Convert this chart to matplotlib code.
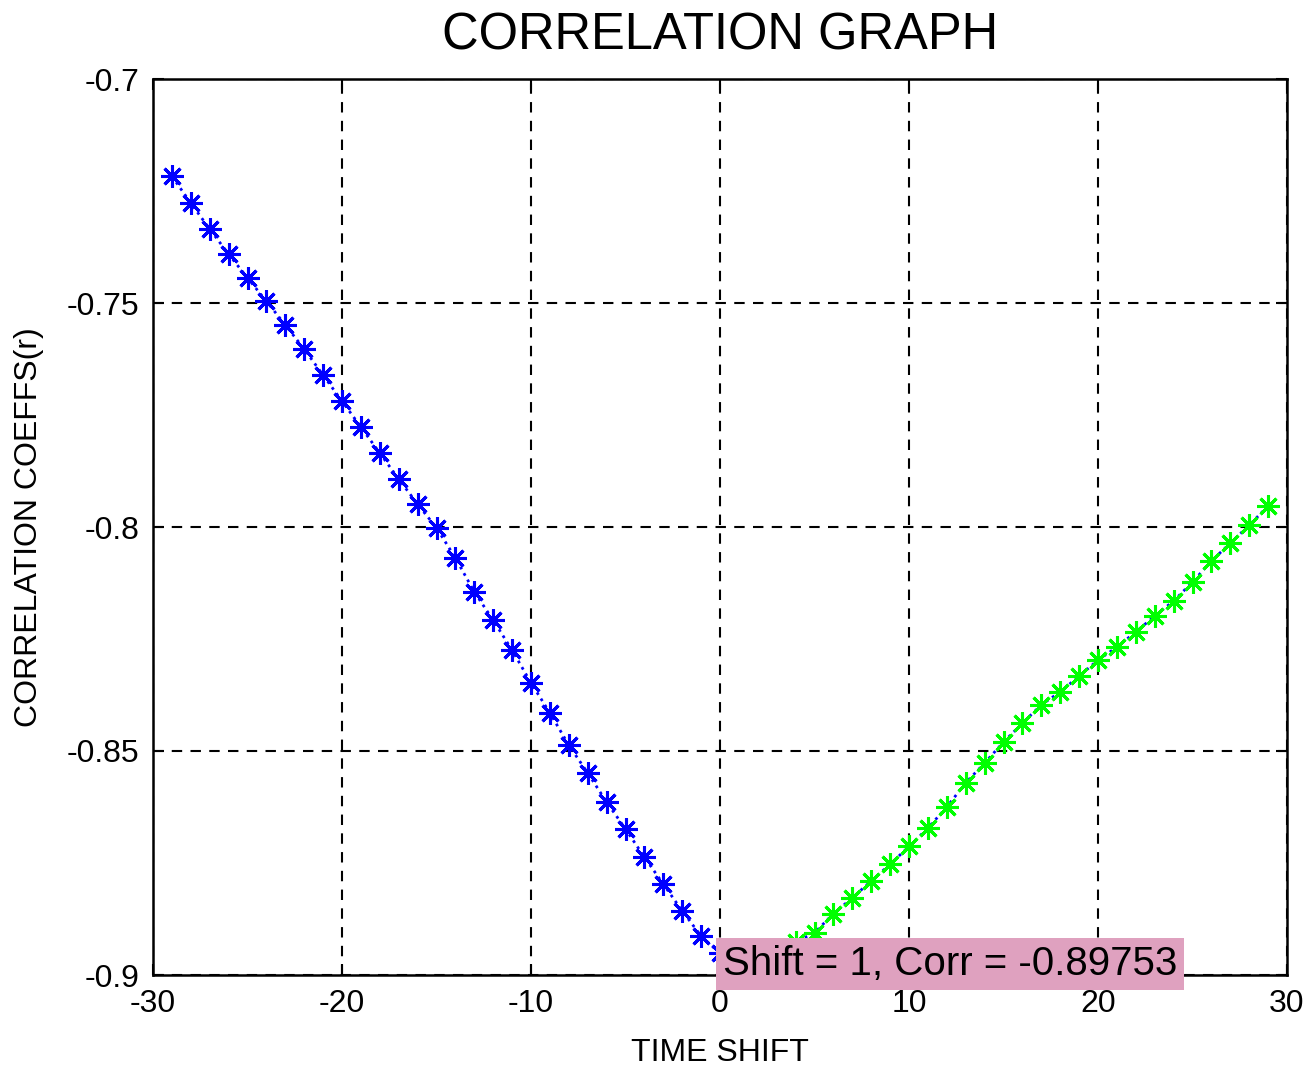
import matplotlib
matplotlib.use("Agg")
import matplotlib.pyplot as plt

# Data
shift_neg = list(range(-29, 1))
corr_neg = [-0.7217, -0.7277, -0.7335, -0.7391, -0.7444, -0.7496, -0.7549, -0.7603,
            -0.7661, -0.7719, -0.7777, -0.7835, -0.7893, -0.7949, -0.8002, -0.8069,
            -0.8145, -0.8208, -0.8275, -0.8348, -0.8415, -0.8487, -0.8549, -0.8614,
            -0.8674, -0.8737, -0.8797, -0.8857, -0.8913, -0.8952]
shift_pos = list(range(1, 30))
corr_pos = [-0.89753, -0.8962, -0.8945, -0.8926, -0.8906, -0.8863, -0.8828, -0.8790,
            -0.8753, -0.8713, -0.8672, -0.8625, -0.8571, -0.8527, -0.8480, -0.8438,
            -0.8397, -0.8368, -0.8333, -0.8297, -0.8268, -0.8234, -0.8199, -0.8165,
            -0.8123, -0.8076, -0.8036, -0.7996, -0.7953]
tip_shift = 1
tip_corr = -0.89753

xticks = [-30, -20, -10, 0, 10, 20, 30]
xticklabels = ["-30", "-20", "-10", "0", "10", "20", "30"]
yticks = [-0.9, -0.85, -0.8, -0.75, -0.7]
yticklabels = ["-0.9", "-0.85", "-0.8", "-0.75", "-0.7"]

plt.rcParams['font.family'] = ['Liberation Sans', 'DejaVu Sans']
plt.rcParams['axes.unicode_minus'] = False

fig = plt.figure(figsize=(13.16, 10.66), dpi=100)
ax = fig.add_axes([153/1316, (1066-975)/1066, 1134/1316, 896/1066])

ast = (8, 2, 0)
ax.plot(shift_neg + shift_pos, corr_neg + corr_pos, color='blue', linestyle=':',
        linewidth=2, zorder=3)
ax.plot(shift_neg, corr_neg, linestyle='none', marker=ast, markersize=16,
        markeredgewidth=2.2, color='blue', zorder=4)
ax.plot(shift_pos, corr_pos, linestyle='none', marker=ast, markersize=16,
        markeredgewidth=2.2, color='#00ff00', zorder=4)

ax.set_xlim(-30, 30)
ax.set_ylim(-0.9, -0.7)
ax.set_xticks(xticks)
ax.set_xticklabels(xticklabels)
ax.set_yticks(yticks)
ax.set_yticklabels(yticklabels)
ax.grid(True, color='black', linestyle=(0, (5, 4)), linewidth=1.5)
ax.tick_params(direction='in', length=8, width=1.5, top=True, right=True,
               labelsize=23, pad=10)
for s in ax.spines.values():
    s.set_linewidth(1.8)

ax.set_title("CORRELATION GRAPH", fontsize=36.5, pad=21)
ax.set_xlabel("TIME SHIFT", fontsize=23, labelpad=14)
ax.set_ylabel("CORRELATION COEFFS(r)", fontsize=23, labelpad=16)

ax.annotate(f"Shift = {tip_shift}, Corr = {tip_corr}", xy=(tip_shift, tip_corr),
            xytext=(-16, 0), textcoords='offset pixels', ha='left', va='center',
            fontsize=29, color='black', annotation_clip=False, zorder=10,
            bbox=dict(boxstyle='square,pad=0.17', facecolor='#DFA1BF',
                      edgecolor='none'))

fig.savefig("out.png", dpi=100)
